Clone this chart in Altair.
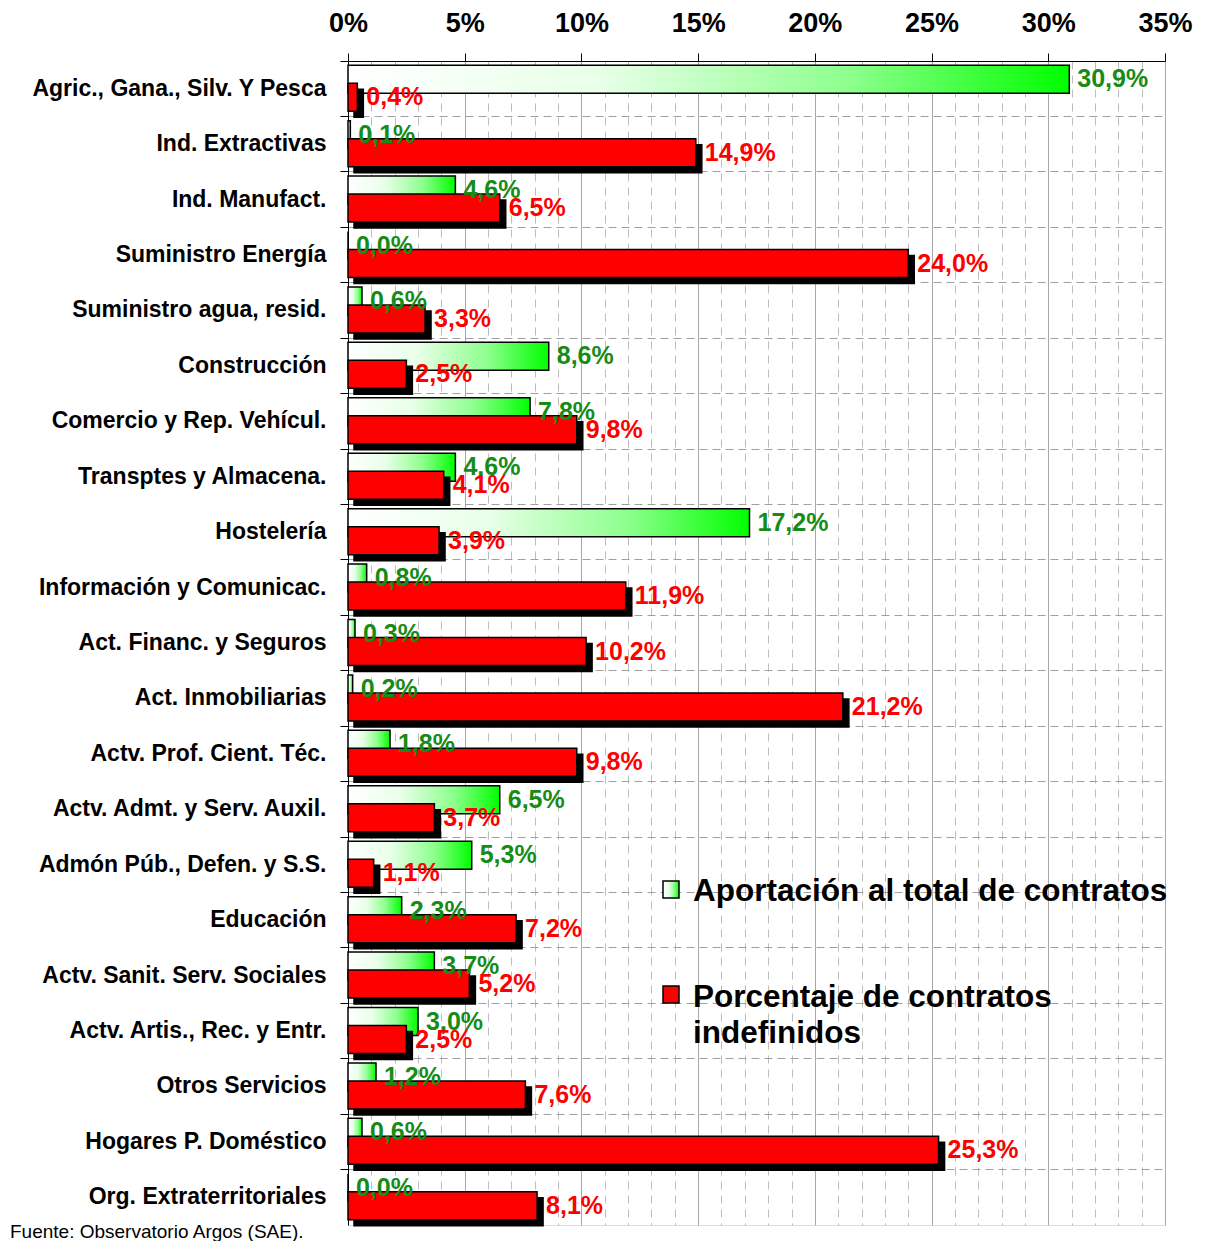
import altair as alt
import pandas as pd

categories = [
    "Agric., Gana., Silv. Y Pesca",
    "Ind. Extractivas",
    "Ind. Manufact.",
    "Suministro Energía",
    "Suministro agua, resid.",
    "Construcción",
    "Comercio y Rep. Vehícul.",
    "Transptes y Almacena.",
    "Hostelería",
    "Información y Comunicac.",
    "Act. Financ. y Seguros",
    "Act. Inmobiliarias",
    "Actv. Prof. Cient. Téc.",
    "Actv. Admt. y Serv. Auxil.",
    "Admón Púb., Defen. y S.S.",
    "Educación",
    "Actv. Sanit. Serv. Sociales",
    "Actv. Artis., Rec. y Entr.",
    "Otros Servicios",
    "Hogares P. Doméstico",
    "Org. Extraterritoriales",
]
aportacion = [30.9, 0.1, 4.6, 0.0, 0.6, 8.6, 7.8, 4.6, 17.2, 0.8, 0.3,
              0.2, 1.8, 6.5, 5.3, 2.3, 3.7, 3.0, 1.2, 0.6, 0.0]
indefinidos = [0.4, 14.9, 6.5, 24.0, 3.3, 2.5, 9.8, 4.1, 3.9, 11.9, 10.2,
               21.2, 9.8, 3.7, 1.1, 7.2, 5.2, 2.5, 7.6, 25.3, 8.1]
x_ticks = list(range(0, 36))
legend_names = ["Aportación al total de contratos",
                "Porcentaje de contratos\nindefinidos"]
source_text = "Fuente: Observatorio Argos (SAE)."


def fmt(v):
    return f"{v:.1f}".replace(".", ",") + "%"


df = pd.DataFrame({
    "cat": categories,
    "ap": aportacion,
    "ind": indefinidos,
    "ap_lbl": [fmt(v) for v in aportacion],
    "ind_lbl": [fmt(v) for v in indefinidos],
})

W = 817
H = 1164
FONT = "Liberation Sans, Arial, Helvetica, sans-serif"
GREEN_TXT = "#168c16"
GOFF = -9.5
ROFF = 8.5
BH = 28
SH = 6

green_grad = alt.Gradient(
    gradient="linear",
    stops=[
        alt.GradientStop(offset=0, color="#ffffff"),
        alt.GradientStop(offset=0.35, color="#e8ffe8"),
        alt.GradientStop(offset=0.7, color="#8cff8c"),
        alt.GradientStop(offset=1, color="#00ff00"),
    ],
    x1=0, x2=1, y1=0, y2=0,
)

xsc = alt.Scale(domain=[0, 35], nice=False, zero=True)
ysc = alt.Scale(domain=categories, paddingInner=0, paddingOuter=0)

major = "datum.value % 5 === 0"
x_axis = alt.Axis(
    orient="top",
    values=x_ticks,
    labelExpr=f"{major} ? datum.value + '%' : ''",
    labelFont=FONT,
    labelFontSize=27,
    labelFontWeight="bold",
    labelColor="black",
    labelPadding=16,
    labelFlush=False,
    labelOverlap=False,
    tickSize=8,
    tickColor={"condition": {"test": major, "value": "black"}, "value": "transparent"},
    domainColor="black",
    domainWidth=1,
    grid=True,
    gridColor={"condition": {"test": major, "value": "#a8a8a8"}, "value": "#bdbdbd"},
    gridDash={"condition": {"test": major, "value": []}, "value": [8, 6]},
    gridWidth=1,
    title=None,
)

y_axis = alt.Axis(
    orient="left",
    bandPosition=0,
    labelFont=FONT,
    labelFontSize=23,
    labelFontWeight="bold",
    labelColor="black",
    labelPadding=14,
    labelLimit=0,
    tickSize=8,
    tickColor="black",
    domainColor="black",
    grid=True,
    gridColor="#a0a0a0",
    gridDash=[8, 5],
    title=None,
)

X_AP = alt.X("ap:Q", scale=xsc, axis=x_axis)
X_IND = alt.X("ind:Q", scale=xsc, axis=x_axis)
Y_CAT = alt.Y("cat:N", scale=ysc, sort=categories, axis=y_axis)

base = alt.Chart(df)

green_bars = base.mark_bar(
    height=BH, yOffset=GOFF, fill=green_grad, stroke="black", strokeWidth=1.5
).encode(x=X_AP, y=Y_CAT)

red_shadow = base.mark_bar(
    height=BH, yOffset=ROFF + SH, xOffset=SH, x2Offset=SH, fill="black", stroke="black", strokeWidth=1.5
).encode(x=X_IND, y=Y_CAT)

red_bars = base.mark_bar(
    height=BH, yOffset=ROFF, fill="#ff0000", stroke="black", strokeWidth=1.5
).encode(x=X_IND, y=Y_CAT)

green_lbl = base.mark_text(
    align="left", baseline="middle", dx=8, yOffset=GOFF,
    font=FONT, fontSize=25, fontWeight="bold", color=GREEN_TXT
).encode(x=X_AP, y=Y_CAT, text="ap_lbl:N")

red_lbl = base.mark_text(
    align="left", baseline="middle", dx=9, yOffset=ROFF,
    font=FONT, fontSize=25, fontWeight="bold", color="#ff0000"
).encode(x=X_IND, y=Y_CAT, text="ind_lbl:N")

one = alt.Data(values=[{}])

leg_sym1 = alt.Chart(one).mark_rect(fill=green_grad, stroke="black", strokeWidth=1.5).encode(
    x=alt.value(315), x2=alt.value(331), y=alt.value(820), y2=alt.value(837)
)
leg_sym2 = alt.Chart(one).mark_rect(fill="#ff0000", stroke="black", strokeWidth=1.5).encode(
    x=alt.value(315), x2=alt.value(331), y=alt.value(925), y2=alt.value(942)
)
leg_txt1 = alt.Chart(one).mark_text(
    align="left", baseline="alphabetic", font=FONT, fontSize=31.5, fontWeight="bold", color="black"
).encode(x=alt.value(345), y=alt.value(840), text=alt.value(legend_names[0]))
leg_txt2 = alt.Chart(one).mark_text(
    align="left", baseline="alphabetic", font=FONT, fontSize=31.5, fontWeight="bold", color="black",
    lineBreak="\n", lineHeight=36
).encode(x=alt.value(345), y=alt.value(946), text=alt.value(legend_names[1]))

src = alt.Chart(one).mark_text(
    align="left", baseline="alphabetic",
    font=FONT, fontSize=19, color="black"
).encode(x=alt.value(-338), y=alt.value(1177), text=alt.value(source_text))

chart = alt.layer(
    green_bars, red_shadow, red_bars, green_lbl, red_lbl,
    leg_sym1, leg_sym2, leg_txt1, leg_txt2, src
).properties(
    width=W,
    height=H,
    autosize=alt.AutoSizeParams(type="none"),
    padding={"left": 340, "top": 53, "right": 34, "bottom": 18},
).configure_view(
    stroke="#a0a0a0", strokeDash=[8, 5], strokeWidth=1
).configure(background="white")

chart.save("out.html", embed_options={"renderer": "svg", "actions": False})
